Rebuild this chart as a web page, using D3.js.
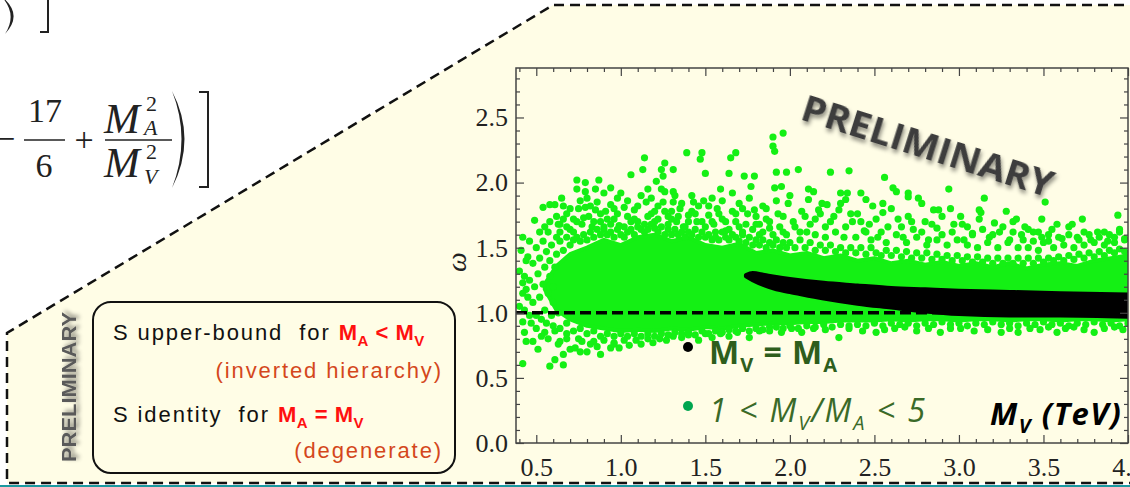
<!DOCTYPE html>
<html>
<head>
<meta charset="utf-8">
<script src="https://d3js.org/d3.v7.min.js"></script>
<style>
  body { margin: 0; background: #fff; }
  svg { display: block; }
  .axis path { display: none; }
  .axis line { stroke: #444; stroke-width: 1.2; }
  .pre { white-space: pre; }
</style>
</head>
<body>
<script>
// ---- data ----
var xMajor = [0.5, 1.0, 1.5, 2.0, 2.5, 3.0, 3.5, 4.0];
var yMajor = [0.0, 0.5, 1.0, 1.5, 2.0, 2.5];

// black band (M_V = M_A)
var bandX   = [1.74, 1.78, 1.85, 1.92, 2.00, 2.20, 2.40, 2.60, 2.80, 3.00, 3.30, 3.60, 4.00];
var bandTop = [1.29, 1.305, 1.29, 1.275, 1.26, 1.23, 1.21, 1.19, 1.18, 1.17, 1.16, 1.15, 1.14];
var bandBot = [1.28, 1.25, 1.21, 1.18, 1.16, 1.11, 1.07, 1.04, 1.01, 0.99, 0.98, 0.98, 0.97];

// dense part of the green cloud
var coreX   = [0.55, 0.62, 0.70, 0.80, 0.90, 1.00, 1.10, 1.20, 1.30, 1.40, 1.50, 1.60, 1.70, 1.80, 1.90, 2.00, 2.10, 2.20, 2.30,
               2.40, 2.50, 2.60, 2.70, 2.80, 2.90, 3.00, 3.10, 3.20, 3.30, 3.40, 3.50, 3.60, 3.70, 3.80, 3.90, 4.00];
var coreTop = [1.22, 1.36, 1.45, 1.50, 1.56, 1.52, 1.58, 1.60, 1.55, 1.58, 1.52, 1.50, 1.53, 1.46, 1.48, 1.44, 1.46, 1.42, 1.44,
               1.40, 1.42, 1.38, 1.40, 1.37, 1.39, 1.36, 1.38, 1.35, 1.38, 1.34, 1.37, 1.38, 1.36, 1.40, 1.42, 1.44];
var coreBot = [1.18, 1.02, 0.95, 0.90, 0.88, 0.86, 0.87, 0.86, 0.88, 0.87, 0.89, 0.88, 0.90, 0.91, 0.92, 0.92, 0.93, 0.93, 0.94,
               0.94, 0.94, 0.95, 0.94, 0.95, 0.95, 0.94, 0.95, 0.95, 0.94, 0.95, 0.95, 0.94, 0.95, 0.95, 0.94, 0.95];

// scattered green points (1 < M_V/M_A < 5): outer scatter
var greenOuter = [
  [0.42,1.58],[0.45,1.43],[0.44,1.40],[0.49,1.71],[0.52,1.62],[0.54,1.81],[0.55,1.66],[0.58,1.83],[0.58,1.70],[0.61,1.83],
  [0.62,1.74],[0.65,1.88],[0.66,1.82],[0.64,1.68],[0.68,1.76],[0.70,1.64],[0.72,1.72],[0.74,2.02],[0.74,1.95],[0.75,1.80],
  [0.77,1.68],[0.79,2.00],[0.79,1.93],[0.79,1.81],[0.81,1.74],[0.83,1.66],[0.85,1.95],[0.85,1.79],[0.87,2.02],[0.88,1.70],
  [0.90,1.64],[0.91,1.78],[0.94,1.96],[0.94,1.83],[0.96,1.72],[0.98,1.88],[0.99,1.67],
  [1.02,1.81],[1.04,1.74],[1.06,2.06],[1.08,1.79],[1.10,1.70],[1.13,2.10],[1.14,2.19],[1.15,1.85],[1.16,1.95],[1.18,1.76],
  [1.20,1.70],[1.21,2.01],[1.22,1.82],[1.24,2.10],[1.25,2.05],[1.25,1.85],[1.26,2.15],[1.26,1.93],[1.28,1.74],[1.30,1.78],
  [1.31,2.10],[1.31,1.93],[1.31,1.85],[1.33,1.70],[1.35,1.80],[1.37,1.66],[1.39,2.23],[1.40,1.75],[1.42,1.78],[1.43,1.85],
  [1.45,1.70],[1.47,2.18],[1.48,2.23],[1.49,1.86],[1.50,2.07],
  [1.52,1.75],[1.54,1.88],[1.55,1.68],[1.57,1.80],[1.59,1.95],[1.60,1.72],[1.62,1.63],[1.64,2.07],[1.65,2.19],[1.66,1.78],
  [1.68,2.23],[1.68,1.70],[1.70,1.84],[1.72,1.62],[1.73,2.05],[1.75,1.76],[1.77,1.97],[1.79,1.79],[1.79,2.05],[1.80,1.68],
  [1.82,1.60],[1.84,1.82],[1.86,1.72],[1.88,1.65],[1.90,2.35],[1.96,2.38],[1.90,2.28],[1.91,2.24],[1.91,1.96],[1.92,2.08],
  [1.93,1.76],[1.95,1.97],[1.96,1.62],[1.98,2.08],[1.99,1.84],
  [2.02,1.70],[2.05,2.10],[2.07,1.78],[2.10,1.62],[2.11,1.95],[2.11,1.87],[2.14,1.93],[2.15,1.72],[2.17,1.79],[2.19,1.84],
  [2.21,1.66],[2.22,1.83],[2.24,2.08],[2.26,1.74],[2.29,1.79],[2.30,1.92],[2.32,1.58],[2.33,1.87],[2.34,1.92],[2.35,2.09],
  [2.37,1.70],[2.40,1.76],[2.42,1.92],[2.44,1.63],[2.45,1.87],[2.47,1.68],[2.49,1.82],
  [2.52,1.58],[2.55,1.84],[2.55,1.77],[2.56,2.04],[2.58,1.66],[2.61,1.96],[2.63,1.93],[2.64,1.72],[2.67,1.58],[2.70,1.92],
  [2.70,1.89],[2.70,1.74],[2.73,1.64],[2.76,1.88],[2.78,1.84],[2.80,1.70],[2.82,1.56],[2.85,1.79],[2.87,1.65],[2.88,1.79],
  [2.90,1.60],[2.94,1.95],[2.95,1.80],[2.97,1.68],
  [3.01,1.74],[3.03,1.56],[3.05,1.66],[3.08,1.61],[3.12,1.79],[3.12,1.72],[3.13,1.77],[3.15,1.88],[3.18,1.58],[3.21,1.69],
  [3.24,1.62],[3.28,1.78],[3.30,1.56],[3.32,1.70],[3.34,1.72],[3.37,1.60],[3.39,1.66],[3.41,1.64],[3.44,1.55],[3.47,1.62],
  [3.49,1.72],[3.49,1.58],
  [3.51,1.85],[3.53,1.55],[3.55,1.64],[3.58,1.68],[3.61,1.57],[3.65,1.66],[3.67,1.68],[3.70,1.58],[3.73,1.72],[3.74,1.62],
  [3.78,1.56],[3.82,1.62],[3.86,1.62],[3.88,1.55],[3.92,1.58],[3.94,1.75],[3.95,1.62],[3.98,1.57],
  [0.42,1.23],[0.44,1.18],[0.42,1.15],[0.42,0.93],[0.43,0.85],[0.42,0.61],[0.46,0.98],[0.48,0.78],[0.50,0.88],[0.51,0.72],
  [0.53,0.95],[0.55,0.85],[0.57,0.80],[0.58,0.59],[0.60,0.90],[0.61,0.64],[0.63,0.76],[0.66,0.60],[0.66,0.68],[0.68,0.84],
  [0.70,0.72],[0.73,0.73],[0.75,0.80],[0.77,0.78],[0.80,0.70],[0.82,0.76],[0.86,0.74],[0.88,0.68],[0.90,0.79],[0.94,0.73],
  [0.96,0.77],[0.99,0.73],
  [1.02,0.79],[1.05,0.75],[1.09,0.79],[1.12,0.76],[1.16,0.80],[1.19,0.77],[1.23,0.80],[1.27,0.79],[1.31,0.82],[1.36,0.81],
  [1.40,0.83],[1.46,0.79],[1.50,0.84],[1.54,0.81],[1.59,0.84],[1.64,0.82],[1.69,0.85],[1.76,0.81],[1.82,0.86],[1.88,0.89],
  [1.95,0.85],
  [2.01,0.88],[2.07,0.85],[2.14,0.88],[2.21,0.87],[2.29,0.81],[2.35,0.88],[2.43,0.86],[2.51,0.85],[2.56,0.87],[2.62,0.88],
  [2.68,0.89],[2.75,0.86],[2.82,0.88],[2.89,0.85],[2.95,0.88],[3.01,0.88],[3.09,0.86],[3.17,0.87],[3.25,0.85],[3.30,0.88],
  [3.35,0.85],[3.42,0.88],[3.48,0.87],[3.53,0.89],[3.58,0.85],[3.63,0.88],[3.68,0.89],[3.74,0.87],[3.80,0.85],[3.86,0.88],
  [3.92,0.89],[3.97,0.87]
];

// left edge of the cloud, where it has no dense core
var greenLeft = [
  [0.40,1.05],[0.40,1.32],[0.41,1.48],[0.43,1.28],[0.43,1.02],[0.44,0.78],[0.45,1.12],[0.46,1.55],[0.46,1.25],[0.47,0.92],
  [0.48,1.38],[0.48,1.08],[0.49,1.20],[0.50,1.50],[0.50,0.98],[0.51,1.30],[0.52,1.42],[0.52,1.12],[0.53,0.82],[0.54,1.55],
  [0.54,1.22],[0.55,1.35],[0.55,1.02],[0.56,1.47],[0.56,0.92],[0.57,1.62],[0.57,1.15],[0.58,1.28],[0.58,1.40],[0.59,0.98],
  [0.59,1.52],[0.60,1.20],[0.60,1.08],[0.61,1.35],[0.61,0.86],[0.62,1.58],[0.62,1.45],[0.63,1.00],[0.63,1.68]
];

// fringe just above the core: [x, y, y]
var fringeUp = [
  [0.64,1.55,1.62],[0.66,1.48,1.72],[0.68,1.58,1.66],[0.70,1.52,1.80],[0.72,1.62,1.56],[0.74,1.70,1.58],[0.76,1.55,1.86],
  [0.78,1.60,1.73],[0.80,1.56,1.88],[0.82,1.62,1.82],[0.84,1.58,1.70],[0.86,1.64,1.85],[0.88,1.60,1.76],[0.90,1.66,1.92],
  [0.92,1.60,1.72],[0.94,1.68,1.62],[0.96,1.58,1.80],[0.98,1.64,1.76],[1.00,1.60,1.92],[1.02,1.66,1.58],[1.04,1.62,1.86],
  [1.06,1.70,1.64],[1.08,1.60,1.72],[1.10,1.66,1.82],[1.12,1.64,1.90],[1.14,1.68,1.62],[1.16,1.64,1.74],[1.18,1.68,1.88],
  [1.20,1.65,1.78],[1.22,1.62,1.72],[1.24,1.66,1.95],[1.26,1.60,1.78],[1.28,1.64,1.68],[1.30,1.60,1.72],[1.32,1.64,1.90],
  [1.34,1.60,1.74],[1.36,1.62,1.84],[1.38,1.66,1.58],[1.40,1.62,1.70],[1.42,1.60,1.90],[1.44,1.64,1.76],[1.46,1.58,1.82],
  [1.48,1.62,1.70],[1.50,1.58,1.66],[1.52,1.60,1.82],[1.54,1.56,1.70],[1.56,1.62,1.58],[1.58,1.56,1.76],[1.60,1.62,1.86],
  [1.62,1.58,1.70],[1.64,1.56,1.64],[1.66,1.60,1.92],[1.68,1.58,1.76],[1.70,1.55,1.66],[1.72,1.60,1.80],[1.74,1.54,1.68],
  [1.76,1.58,1.88],[1.78,1.52,1.64],[1.80,1.56,1.74],[1.82,1.52,1.68],[1.84,1.56,1.62],[1.86,1.50,1.80],[1.88,1.54,1.70],
  [1.90,1.52,1.60],[1.92,1.56,1.86],[1.94,1.50,1.66],[1.96,1.54,1.74],[1.98,1.50,1.60],[2.00,1.54,1.90],[2.03,1.50,1.66],
  [2.06,1.56,1.62],[2.09,1.50,1.74],[2.12,1.54,1.68],[2.15,1.48,1.60],[2.18,1.52,1.76],[2.21,1.48,1.58],[2.24,1.52,1.70],
  [2.27,1.47,1.62],[2.30,1.50,1.84],[2.33,1.46,1.66],[2.36,1.50,1.76],[2.39,1.46,1.58],[2.42,1.50,1.70],[2.45,1.45,1.62],
  [2.48,1.50,1.56],[2.51,1.46,1.72],[2.54,1.44,1.62],[2.57,1.48,1.54],[2.60,1.44,1.80],[2.63,1.48,1.60],[2.66,1.43,1.66],
  [2.69,1.47,1.54],[2.72,1.42,1.70],[2.75,1.46,1.58],[2.78,1.42,1.62],[2.81,1.46,1.52],[2.84,1.41,1.68],[2.87,1.45,1.56],
  [2.90,1.41,1.74],[2.93,1.44,1.52],[2.96,1.40,1.62],[2.99,1.44,1.56],[3.02,1.40,1.68],[3.05,1.43,1.52],[3.08,1.39,1.60],
  [3.11,1.43,1.50],[3.14,1.39,1.64],[3.17,1.42,1.54],[3.20,1.38,1.60],[3.23,1.42,1.50],[3.26,1.38,1.66],[3.29,1.42,1.54],
  [3.32,1.38,1.62],[3.35,1.42,1.50],[3.38,1.38,1.56],[3.41,1.42,1.50],[3.44,1.38,1.62],[3.47,1.42,1.48],[3.50,1.39,1.54],
  [3.53,1.42,1.60],[3.56,1.40,1.50],[3.59,1.43,1.58],[3.62,1.40,1.52],[3.65,1.44,1.60],[3.68,1.41,1.50],[3.71,1.45,1.56],
  [3.74,1.42,1.52],[3.77,1.46,1.60],[3.80,1.43,1.54],[3.83,1.47,1.58],[3.86,1.44,1.52],[3.89,1.48,1.60],[3.92,1.46,1.54],
  [3.95,1.49,1.64],[3.98,1.47,1.56]
];

// fringe just below the core: [x, y] or [x, y, y]
var fringeDown = [
  [0.64,0.88,0.78],[0.68,0.92,0.80],[0.72,0.86],[0.76,0.88,0.70],[0.80,0.84],[0.84,0.86,0.78],[0.88,0.82],[0.92,0.84],
  [0.96,0.82,0.76],[1.00,0.84],[1.04,0.82],[1.08,0.84],[1.12,0.82],[1.16,0.84],[1.20,0.82],[1.24,0.84],[1.28,0.83],
  [1.32,0.85],[1.36,0.84],[1.40,0.85],[1.44,0.83],[1.48,0.86],[1.52,0.84],[1.56,0.86],[1.60,0.85],[1.64,0.87],[1.68,0.86],
  [1.72,0.88],[1.76,0.86],[1.80,0.88],[1.84,0.87],[1.88,0.86],[1.92,0.89],[1.96,0.88],[2.00,0.90],[2.05,0.88],[2.10,0.90],
  [2.15,0.89],[2.20,0.91],[2.25,0.89],[2.30,0.91],[2.35,0.90],[2.40,0.91],[2.45,0.90],[2.50,0.92],[2.55,0.90],[2.60,0.92],
  [2.65,0.91],[2.70,0.92],[2.75,0.90],[2.80,0.92],[2.85,0.91],[2.90,0.93],[2.95,0.91],[3.00,0.92],[3.05,0.90],[3.10,0.92],
  [3.15,0.91],[3.20,0.93],[3.25,0.91],[3.30,0.92],[3.35,0.90],[3.40,0.92],[3.45,0.91],[3.50,0.93],[3.55,0.91],[3.60,0.92],
  [3.65,0.90],[3.70,0.92],[3.75,0.91],[3.80,0.93],[3.85,0.91],[3.90,0.92],[3.95,0.90],[4.00,0.92]
];

var W = 1130, H = 487;
var cream = "#fffde6", green = "#14f014";
var serif = "'Liberation Serif', 'Times New Roman', serif";

var svg = d3.select("body").append("svg").attr("width", W).attr("height", H);
var defs = svg.append("defs");
var sh = defs.append("filter").attr("id", "shadow").attr("x", "-20%").attr("y", "-50%").attr("width", "140%").attr("height", "200%");
sh.append("feDropShadow").attr("dx", 2).attr("dy", 3).attr("stdDeviation", 2).attr("flood-color", "#000").attr("flood-opacity", 0.45);

// slide panel (cream polygon with dashed border)
svg.append("path")
  .attr("d", "M1140,5 L553,5 L7,333 L7,483 L1140,483")
  .attr("fill", cream).attr("stroke", "#111").attr("stroke-width", 2.5).attr("stroke-dasharray", "10,6");
svg.append("rect").attr("x", 0).attr("y", 485).attr("width", W).attr("height", 3).attr("fill", "#1b9aa0");

// equation fragments (top left)
var eq = svg.append("g").attr("fill", "#222").style("font-family", serif);
eq.append("path").attr("d", "M1,-4 Q24,14 5,34 Q18,14 1,-4 Z");
eq.append("path").attr("d", "M40,-2 L48,-2 L48,32 L40,32").attr("fill", "none").attr("stroke", "#222").attr("stroke-width", 2);
eq.append("text").attr("x", -4).attr("y", 150).attr("font-size", 34).text("\u2212");
eq.append("text").attr("x", 45).attr("y", 122).attr("font-size", 34).attr("text-anchor", "middle").text("17");
eq.append("text").attr("x", 44).attr("y", 177).attr("font-size", 34).attr("text-anchor", "middle").text("6");
eq.append("line").attr("x1", 24).attr("x2", 65).attr("y1", 140).attr("y2", 140).attr("stroke", "#222").attr("stroke-width", 1.4);
eq.append("text").attr("x", 84).attr("y", 151).attr("font-size", 34).attr("text-anchor", "middle").text("+");
eq.append("text").attr("x", 104).attr("y", 133).attr("font-size", 43).attr("font-style", "italic").text("M");
eq.append("text").attr("x", 146).attr("y", 111).attr("font-size", 22).text("2");
eq.append("text").attr("x", 144).attr("y", 135).attr("font-size", 22).attr("font-style", "italic").text("A");
eq.append("line").attr("x1", 105).attr("x2", 172).attr("y1", 140).attr("y2", 140).attr("stroke", "#222").attr("stroke-width", 1.4);
eq.append("text").attr("x", 104).attr("y", 177).attr("font-size", 43).attr("font-style", "italic").text("M");
eq.append("text").attr("x", 146).attr("y", 159).attr("font-size", 22).text("2");
eq.append("text").attr("x", 144).attr("y", 184).attr("font-size", 22).attr("font-style", "italic").text("V");
eq.append("path").attr("d", "M172,91 Q197,139 172,188 Q191,139 172,91 Z");
eq.append("path").attr("d", "M199,92 L208,92 L208,187 L199,187").attr("fill", "none").attr("stroke", "#222").attr("stroke-width", 2);

// left box
svg.append("rect").attr("x", 93).attr("y", 302).attr("width", 362).attr("height", 171).attr("rx", 18)
  .attr("fill", "none").attr("stroke", "#111").attr("stroke-width", 2);
svg.append("text").attr("transform", "translate(76,462) rotate(-90)")
  .attr("font-family", "'Liberation Sans', Arial, sans-serif").attr("font-weight", "bold").attr("font-size", 21)
  .attr("fill", "#5a5a5a").attr("filter", "url(#shadow)")
  .attr("textLength", 150).attr("lengthAdjust", "spacingAndGlyphs").text("PRELIMINARY");

function richLine(x, y, anchor, parts) {
  var t = svg.append("text").attr("x", x).attr("y", y).attr("text-anchor", anchor).attr("class", "pre")
    .attr("font-family", "'Liberation Sans', Arial, sans-serif").attr("font-size", 22).attr("letter-spacing", 1.9);
  parts.forEach(function (p) {
    var s = t.append("tspan").text(p.t).attr("fill", p.c || "#111");
    if (p.b) s.attr("font-weight", "bold").attr("letter-spacing", 0.5);
    if (p.sub) s.attr("dy", 6).attr("font-size", 15);
    if (p.up) s.attr("dy", -6);
  });
}
var red = "#ff1010", rust = "#d4471c";
richLine(113, 340, "start", [{t: "S upper-bound  for "}, {t: "M", c: red, b: 1}, {t: "A", c: red, b: 1, sub: 1},
  {t: " < ", c: red, b: 1, up: 1}, {t: "M", c: red, b: 1}, {t: "V", c: red, b: 1, sub: 1}]);
richLine(443, 378, "end", [{t: "(inverted hierarchy)", c: rust}]);
richLine(113, 422, "start", [{t: "S identity  for "}, {t: "M", c: red, b: 1}, {t: "A", c: red, b: 1, sub: 1},
  {t: " = ", c: red, b: 1, up: 1}, {t: "M", c: red, b: 1}, {t: "V", c: red, b: 1, sub: 1}]);
richLine(443, 458, "end", [{t: "(degenerate)", c: rust}]);

// ---- plot ----
var x = d3.scaleLinear().domain([0.38, 4.0]).range([516, 1128]);
var y = d3.scaleLinear().domain([0, 2.88]).range([443, 68]);

defs.append("clipPath").attr("id", "plotclip").append("rect")
  .attr("x", 516).attr("y", 68).attr("width", 612).attr("height", 375);
var plot = svg.append("g").attr("clip-path", "url(#plotclip)");

var core = coreX.map(function (v, i) { return {x: v, top: coreTop[i], bot: coreBot[i]}; });
plot.append("path").datum(core)
  .attr("d", d3.area().x(function (d) { return x(d.x); }).y0(function (d) { return y(d.bot); })
    .y1(function (d) { return y(d.top); }).curve(d3.curveLinear))
  .attr("fill", green).attr("stroke", green).attr("stroke-width", 4).attr("stroke-linejoin", "round");

function expand(rows) {
  var out = [];
  rows.forEach(function (r) { for (var k = 1; k < r.length; k++) out.push([r[0], r[k]]); });
  return out;
}
var greenAll = greenOuter.concat(greenLeft, expand(fringeUp), expand(fringeDown));
plot.selectAll(".g").data(greenAll).enter().append("circle")
  .attr("cx", function (d) { return x(d[0]); }).attr("cy", function (d) { return y(d[1]); })
  .attr("r", 3.6).attr("fill", green);

plot.append("line").attr("x1", x(0.38)).attr("x2", x(4.0)).attr("y1", y(1)).attr("y2", y(1))
  .attr("stroke", "#000").attr("stroke-width", 3.5).attr("stroke-dasharray", "11,5");

var band = bandX.map(function (v, i) { return {x: v, top: bandTop[i], bot: bandBot[i]}; });
plot.append("path").datum(band)
  .attr("d", d3.area().x(function (d) { return x(d.x); }).y0(function (d) { return y(d.bot); })
    .y1(function (d) { return y(d.top); }).curve(d3.curveMonotoneX))
  .attr("fill", "#000").attr("stroke", "#000").attr("stroke-width", 4).attr("stroke-linejoin", "round");

// frame and ticks
svg.append("rect").attr("x", 516).attr("y", 68).attr("width", 612).attr("height", 375)
  .attr("fill", "none").attr("stroke", "#444").attr("stroke-width", 1.5);
var xMinor = x.ticks(40).filter(function (v) { return xMajor.indexOf(+v.toFixed(1)) < 0; });
var yMinor = y.ticks(30).filter(function (v) { return yMajor.indexOf(+v.toFixed(1)) < 0; });

function axisG(tr) {
  return svg.append("g").attr("class", "axis").attr("transform", tr);
}
function serifLabels(g) {
  g.selectAll("text").style("font-family", serif).style("font-size", "26px").attr("fill", "#222");
}
var fmt = d3.format(".1f");
axisG("translate(0,443)").call(d3.axisBottom(x).tickValues(xMajor).tickSizeInner(-8).tickSizeOuter(0).tickPadding(15).tickFormat(fmt)).call(serifLabels);
axisG("translate(0,443)").call(d3.axisBottom(x).tickValues(xMinor).tickSizeInner(-4).tickSizeOuter(0).tickFormat(""));
axisG("translate(0,68)").call(d3.axisTop(x).tickValues(xMajor).tickSizeInner(-8).tickSizeOuter(0).tickFormat(""));
axisG("translate(0,68)").call(d3.axisTop(x).tickValues(xMinor).tickSizeInner(-4).tickSizeOuter(0).tickFormat(""));
axisG("translate(516,0)").call(d3.axisLeft(y).tickValues(yMajor).tickSizeInner(-8).tickSizeOuter(0).tickPadding(8).tickFormat(fmt)).call(serifLabels);
axisG("translate(516,0)").call(d3.axisLeft(y).tickValues(yMinor).tickSizeInner(-4).tickSizeOuter(0).tickFormat(""));
axisG("translate(1128,0)").call(d3.axisRight(y).tickValues(yMajor).tickSizeInner(-8).tickSizeOuter(0).tickFormat(""));
axisG("translate(1128,0)").call(d3.axisRight(y).tickValues(yMinor).tickSizeInner(-4).tickSizeOuter(0).tickFormat(""));

svg.append("text").attr("transform", "translate(466,262) rotate(-90)").attr("text-anchor", "middle")
  .style("font-family", serif).attr("font-style", "italic").attr("font-size", 28)
  .attr("fill", "#222").text("\u03c9");

// watermark in plot
svg.append("text").attr("transform", "translate(799,119) rotate(17.5)")
  .attr("font-family", "'Open Sans', sans-serif").attr("font-weight", "bold").attr("font-size", 36)
  .attr("fill", "#3c3c3c").attr("filter", "url(#shadow)")
  .attr("textLength", 262).attr("lengthAdjust", "spacingAndGlyphs").text("PRELIMINARY");

// legend
var dkgreen = "#2e5e1c";
svg.append("circle").attr("cx", 688).attr("cy", 347).attr("r", 5).attr("fill", "#000");
svg.append("circle").attr("cx", 688).attr("cy", 406).attr("r", 5).attr("fill", "#00a650");
var l1 = svg.append("text").attr("x", 709).attr("y", 364).attr("class", "pre").attr("letter-spacing", 1)
  .attr("font-family", "'Open Sans', sans-serif").attr("font-weight", "bold").attr("font-size", 32).attr("fill", dkgreen);
l1.append("tspan").text("M");
l1.append("tspan").text("V").attr("font-size", 20).attr("dy", 8);
l1.append("tspan").text(" = M").attr("dy", -8);
l1.append("tspan").text("A").attr("font-size", 20).attr("dy", 8);
var l2 = svg.append("text").attr("x", 709).attr("y", 422).attr("class", "pre").attr("letter-spacing", 2)
  .attr("font-family", "'Open Sans', sans-serif").attr("font-style", "italic").attr("font-size", 32).attr("fill", "#3a6a28");
l2.append("tspan").text("1 < M");
l2.append("tspan").text("V").attr("font-size", 20).attr("dy", 8);
l2.append("tspan").text("/M").attr("dy", -8);
l2.append("tspan").text("A").attr("font-size", 20).attr("dy", 8);
l2.append("tspan").text(" < 5").attr("dy", -8);
var l3 = svg.append("text").attr("x", 990).attr("y", 425).attr("class", "pre").attr("letter-spacing", 1.5)
  .attr("font-family", "'Open Sans', sans-serif").attr("font-style", "italic").attr("font-weight", "bold").attr("font-size", 31).attr("fill", "#000");
l3.append("tspan").text("M");
l3.append("tspan").text("V").attr("font-size", 20).attr("dy", 8);
l3.append("tspan").text(" (TeV)").attr("dy", -8);
</script>
</body>
</html>
